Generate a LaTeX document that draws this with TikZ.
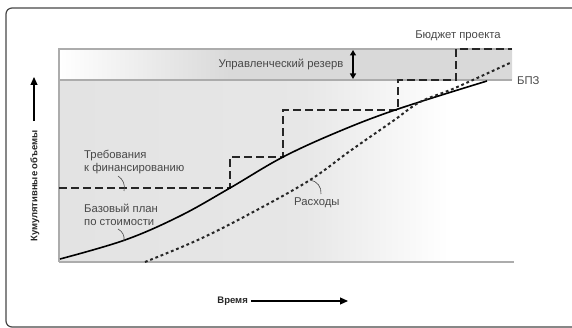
\documentclass[tikz,border=0pt]{standalone}
\usepackage{fontspec}
\setmainfont{Liberation Sans}
\usetikzlibrary{arrows.meta, positioning, calc}
\definecolor{framegray}{RGB}{70, 70, 70}
\definecolor{linegray}{RGB}{172, 172, 172}
\definecolor{labelgray}{RGB}{72, 72, 72}
\pgfdeclarehorizontalshading{lowfade}{100bp}{color(0bp)=(gray!22); color(25bp)=(gray!22); color(52bp)=(gray!19); color(68bp)=(white); color(100bp)=(white)}
\pgfdeclarehorizontalshading{reservefade}{100bp}{color(0bp)=(white); color(25bp)=(white); color(44bp)=(gray!30); color(100bp)=(gray!30)}

\begin{document}
\begin{tikzpicture}[x=1pt, y=-1pt,
    lbl/.style={font=\fontsize{11.3}{12.5}\selectfont, text=labelgray, inner sep=0pt, align=left},
    axislbl/.style={font=\fontsize{9.5}{11}\selectfont\bfseries, text=black!85, inner sep=0pt},
    axisarrow/.style={line width=1.2pt, -{Triangle[length=8pt, width=7pt]}},
    tick/.style={line width=0.6pt, labelgray},
    planline/.style={line width=1.6pt, black},
    fundline/.style={line width=2pt, black!85, dash pattern=on 8pt off 4pt},
    costline/.style={line width=2pt, black!85, dash pattern=on 2.8pt off 2.8pt}]
  \useasboundingbox (0,0) rectangle (572,328);

  % Frame
  \draw[framegray, line width=1.2pt, rounded corners=6pt] (6,8) rectangle (600,327);

  % Plot area
  \fill[shading=lowfade] (59,80) rectangle (512,262);
  \fill[shading=reservefade] (59,49) rectangle (512,80);
  \draw[linegray, line width=1.4pt] (512,49) -- (59,49) -- (59,262);
  \draw[linegray, line width=1.4pt] (59,80) -- (512,80);
  \draw[linegray, line width=2pt] (59,262) -- (514,262);

  % Reserve
  \node[lbl] (reserve) at (281,64) {Управленческий резерв};
  \coordinate (restop) at (353,50);
  \coordinate (resbot) at (353,79);
  \draw[line width=1.5pt, {Triangle[length=5.5pt, width=6pt]}-{Triangle[length=5.5pt, width=6pt]}] (restop) -- (resbot);
  \node[lbl] (budget) at (458,36) {Бюджет проекта};
  \node[lbl, anchor=west] (bpz) at (517,81) {БПЗ};

  % Funding requirements
  \draw[fundline] (59,188) -- (230,188) -- (230,157) -- (283,157) -- (283,110)
    -- (398,110) -- (398,80) -- (456,80) -- (456,49) -- (512,49);
  \node[lbl, anchor=west] (funding) at (84,162) {Требования\\к финансированию};
  \coordinate (fundA) at (118,176);
  \coordinate (fundB) at (124,191);
  \draw[tick] (fundA) to[bend left=35] (fundB);

  % Cost baseline
  \draw[planline] plot[smooth, tension=0.6] coordinates {(60,259) (125,240) (180,216) (230,188)
    (283,157) (340,131) (398,109) (487,81)};
  \node[lbl, anchor=west] (baseline) at (84,215) {Базовый план\\по стоимости};
  \coordinate (baseA) at (118,229);
  \coordinate (baseB) at (124,241);
  \draw[tick] (baseA) to[bend left=35] (baseB);

  % Expenditures
  \draw[costline] plot[smooth, tension=0.6] coordinates {(145,262) (200,239) (255,211) (310,180)
    (350,151) (393,121) (420,102) (455,88) (512,62)};
  \node[lbl, anchor=west] (spend) at (294,203) {Расходы};
  \coordinate (spendA) at (310,180);
  \coordinate (spendB) at (321,194);
  \draw[tick] (spendA) to[bend left=45] (spendB);

  % Axes
  \node[axislbl, rotate=90] (ylab) at (35,186) {Кумулятивные объемы};
  \coordinate (ytip) at (34,77);
  \draw[axisarrow] ([yshift=9pt]ylab.east -| ytip) -- (ytip);
  \node[axislbl, anchor=east] (xlab) at (248,301) {Время};
  \coordinate (xtip) at (348,301);
  \draw[axisarrow] ([xshift=3pt]xlab.east) -- (xtip);
\end{tikzpicture}
\end{document}
